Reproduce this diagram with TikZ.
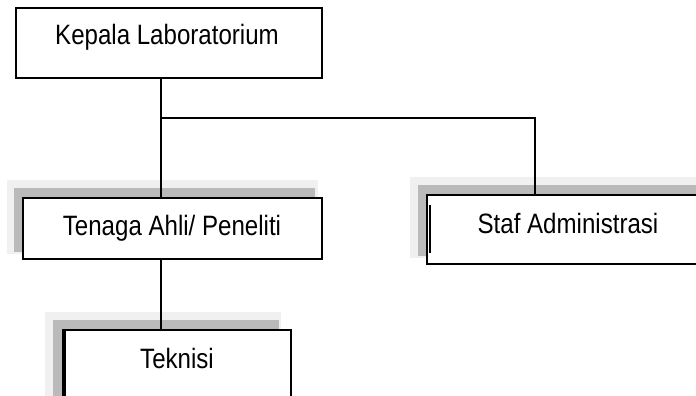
\documentclass[tikz,border=0pt]{standalone}
\usepackage{fontspec}
\setmainfont[FakeStretch=0.86]{Liberation Sans}
\begin{document}
\begin{tikzpicture}[x=1pt,y=-1pt,
  box/.style={draw=black,line width=1.4pt,fill=white},
  halo/.style={fill=black!6,draw=none},
  band/.style={fill=black!27,draw=none},
  txt/.style={anchor=base,inner sep=0pt,font=\fontsize{28}{32}\selectfont},
  conn/.style={draw=black,line width=1.6pt}]
\useasboundingbox (0,0) rectangle (696,396);
\clip (0,0) rectangle (696,396);
% Kepala
\draw[box] (16,8) rectangle (322,78);
\node[inner sep=0pt,minimum width=306pt,minimum height=70pt] (kepala) at (169,43) {};
\node[txt] (tkepala) at (167,45) {Kepala Laboratorium};
% Tenaga shadow + box
\fill[halo] (7,180) rectangle (318,254);
\fill[band] (14,188) rectangle (315,252);
\draw[box] (23,198) rectangle (322,259);
\node[inner sep=0pt,minimum width=299pt,minimum height=61pt] (tenaga) at (172.5,228.5) {};
\node[txt] (ttenaga) at (172,235) {Tenaga Ahli/ Peneliti};
% Staf shadow + box
\fill[halo] (410,177) rectangle (700,258);
\fill[band] (418,185) rectangle (700,256);
\draw[box] (427,195) rectangle (700,264);
\draw[line width=1.5pt] (430,205) -- (430,253);
\node[inner sep=0pt,minimum width=273pt,minimum height=69pt] (staf) at (563.5,229.5) {};
\node[txt] (tstaf) at (568,233) {Staf Administrasi};
% Teknisi shadow + box
\fill[halo] (45,312) rectangle (281,400);
\fill[band] (53,320) rectangle (279,400);
\draw[box] (63,330) rectangle (291,402);
\draw[line width=2.6pt] (64.3,331) -- (64.3,400);
\node[inner sep=0pt,minimum width=228pt,minimum height=72pt] (teknisi) at (177,366) {};
\node[txt] (tteknisi) at (177,368) {Teknisi};
% connectors
\coordinate (j) at (161,118);
\coordinate (s) at (535,118);
\draw[conn] (kepala.south -| j) -- (tenaga.north -| j);
\draw[conn] (j) -- (s) -- (staf.north -| s);
\draw[conn] (tenaga.south -| j) -- (teknisi.north -| j);
\end{tikzpicture}
\end{document}
